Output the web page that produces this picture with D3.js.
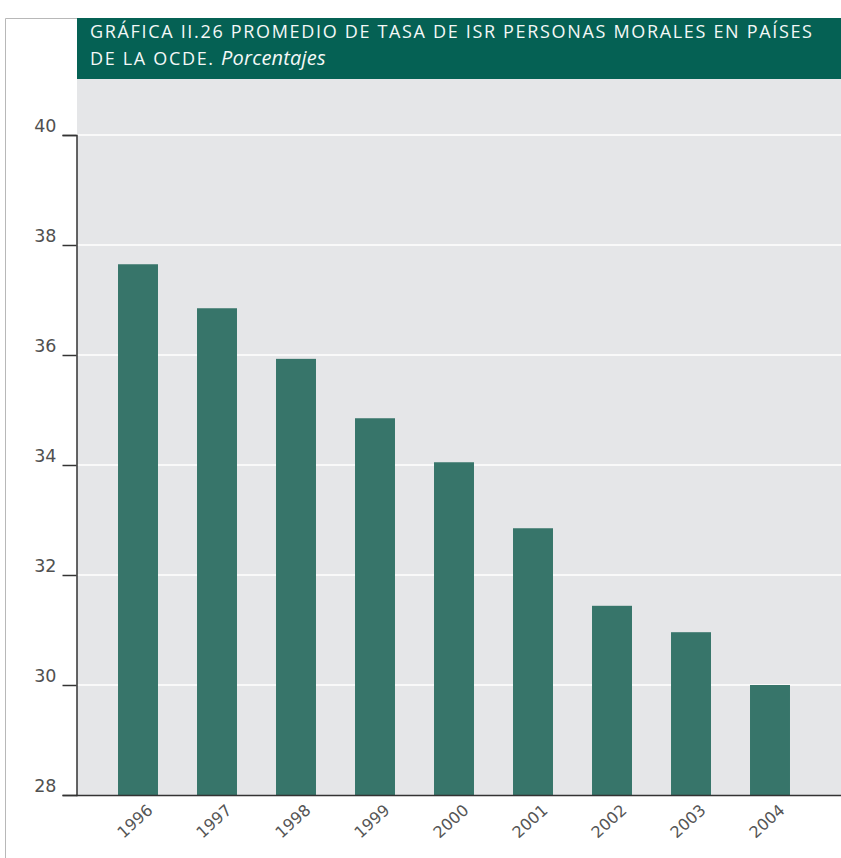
<!DOCTYPE html>
<html>
<head>
<meta charset="utf-8">
<script src="https://cdn.jsdelivr.net/npm/d3@7/dist/d3.min.js"></script>
<style>
  html, body { margin: 0; padding: 0; background: #fff; }
  svg { display: block; }
</style>
</head>
<body>
<svg id="chart" width="841" height="858"></svg>
<script>
// Average corporate income tax rate (ISR personas morales), OECD countries
const years = ["1996", "1997", "1998", "1999", "2000", "2001", "2002", "2003", "2004"];
const rates = [37.65, 36.85, 35.93, 34.85, 34.05, 32.85, 31.44, 30.96, 30.0];
const yTicks = [28, 30, 32, 34, 36, 38, 40];
const titleLine1 = "GRÁFICA II.26 PROMEDIO DE TASA DE ISR PERSONAS MORALES EN PAÍSES";
const titleLine2 = "DE LA OCDE.";
const titleUnit = "Porcentajes";

const svg = d3.select("#chart");
const W = 841, H = 858;

// outer frame
svg.append("path")
  .attr("d", `M5.5,${H} V18.5 H${W}`)
  .attr("fill", "none")
  .attr("stroke", "#b8b8b8")
  .attr("stroke-width", 1);

// title band
const band = svg.append("g");
band.append("rect")
  .attr("x", 77).attr("y", 18).attr("width", W - 77).attr("height", 61)
  .attr("fill", "#056154");

const titleFont = "'Open Sans', sans-serif";
const line1 = band.append("text")
  .attr("x", 90).attr("y", 37.5)
  .attr("fill", "#f4f8f7")
  .style("font-family", titleFont)
  .style("font-size", "18px")
  .text(titleLine1);
// tracked caps: spread the first line over the band width
const natural = line1.node().getComputedTextLength();
const spacing = (722 - natural) / (titleLine1.length - 1);
line1.style("letter-spacing", spacing + "px");

const t2 = band.append("text")
  .attr("x", 90).attr("y", 64.5)
  .attr("fill", "#f4f8f7")
  .style("font-family", titleFont)
  .style("font-size", "18px");
t2.append("tspan").style("letter-spacing", spacing + "px").text(titleLine2 + " ");
t2.append("tspan")
  .style("font-style", "italic")
  .style("font-size", "20px")
  .style("letter-spacing", "0.2px")
  .text(titleUnit);

// plot area
const plot = { left: 77, right: W, top: 79, bottom: 795 };

const y = d3.scaleLinear().domain([28, 40]).range([795, 135]);
const x = d3.scaleBand()
  .domain(years)
  .range([98.5, 809.5])
  .paddingInner(0.494)
  .paddingOuter(0.247);

svg.append("rect")
  .attr("x", plot.left).attr("y", plot.top)
  .attr("width", plot.right - plot.left).attr("height", plot.bottom - plot.top)
  .attr("fill", "#e5e6e8");

// horizontal gridlines
svg.append("g")
  .selectAll("line")
  .data(yTicks.filter(d => d > 28))
  .join("line")
  .attr("x1", plot.left).attr("x2", plot.right)
  .attr("y1", d => y(d)).attr("y2", d => y(d))
  .attr("stroke", "#ffffff")
  .attr("stroke-width", 1.5);

// bars
svg.append("g")
  .selectAll("rect")
  .data(years.map((yr, i) => ({ yr, v: rates[i] })))
  .join("rect")
  .attr("x", d => x(d.yr))
  .attr("width", x.bandwidth())
  .attr("y", d => y(d.v))
  .attr("height", d => y(28) - y(d.v))
  .attr("fill", "#37756a");

// y axis
const yAxis = svg.append("g")
  .attr("transform", "translate(76.5,0)")
  .call(d3.axisLeft(y).tickValues(yTicks).tickSize(14).tickPadding(6).tickFormat(d3.format("d")));
yAxis.select(".domain").attr("stroke", "#333").attr("stroke-width", 1.5);
yAxis.selectAll(".tick line").attr("stroke", "#333").attr("stroke-width", 1.5);
yAxis.selectAll(".tick text")
  .attr("fill", "#505050")
  .style("font-family", "'DejaVu Sans', sans-serif")
  .style("font-size", "17.5px")
  .attr("dy", "-0.2em");

// x axis
const xAxis = svg.append("g")
  .attr("transform", "translate(0,795.5)")
  .call(d3.axisBottom(x).tickSize(0).tickPadding(0));
xAxis.select(".domain")
  .attr("d", `M76,0H${W}`)
  .attr("stroke", "#333").attr("stroke-width", 1.5);
xAxis.selectAll(".tick text")
  .attr("fill", "#555")
  .style("font-family", "'DejaVu Sans', sans-serif")
  .style("font-size", "16px")
  .attr("text-anchor", "end")
  .attr("transform", "translate(12,12) rotate(-42)")
  .attr("dy", "0.35em")
  .attr("y", 0);
</script>
</body>
</html>
